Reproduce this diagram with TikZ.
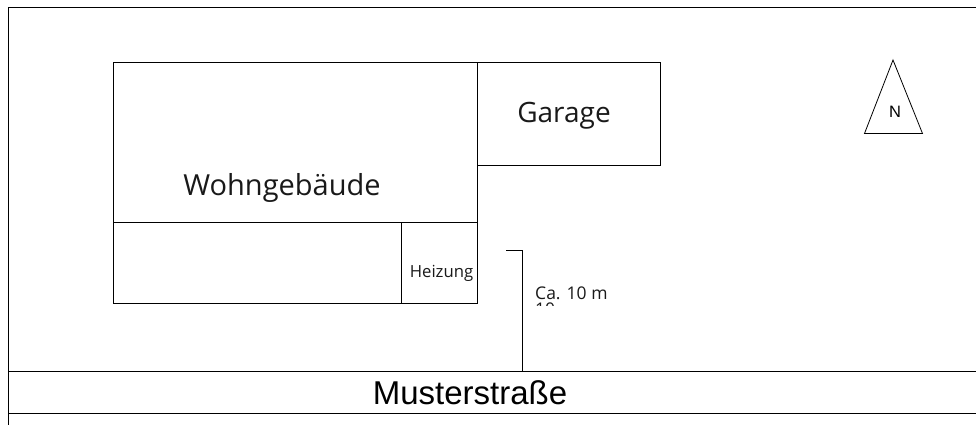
\documentclass[tikz,border=0pt]{standalone}
\usepackage{fontspec}
\setmainfont{Open Sans}
\newfontfamily\roadfont{Liberation Sans}
\usetikzlibrary{shapes.geometric, positioning}
\tikzstyle{room} = [rectangle,
inner sep=0pt,
outer sep=0pt,
draw=black,
line width=1pt]
\tikzstyle{line} = [draw=black,
line width=1pt]
\tikzstyle{label} = [inner sep=0pt,
text=black!90]

\begin{document}
\begin{tikzpicture}[x=1pt, y=-1pt]
	\useasboundingbox (0,0) rectangle (976,425);

	% plot outline and road
	\coordinate (frameA) at (8.5,425);
	\coordinate (frameB) at (8.5,7.5);
	\coordinate (frameC) at (976,7.5);
	\coordinate (roadA) at (8.5,371);
	\coordinate (roadB) at (976,371);
	\coordinate (roadC) at (8.5,413);
	\coordinate (roadD) at (976,413);
	\draw [line] (frameA) -- (frameB) -- (frameC);
	\draw [line] (roadA) -- (roadB);
	\draw [line] (roadC) -- (roadD);

	% buildings
	\node (house) [room, minimum width=364pt, minimum height=160pt] at (295.5,142.5) {};
	\node (annex) [room, minimum width=287.5pt, minimum height=81pt] at (257.25,262.5) {};
	\node (heating) [room, minimum width=76.5pt, minimum height=81pt] at (439.25,262.5) {};
	\node (garage) [room, minimum width=183pt, minimum height=102.5pt] at (569,113.75) {};

	\node (houseLabel) [label, font=\fontsize{29}{34}\selectfont] at (282,188) {Wohngebäude};
	\node (garageLabel) [label, font=\fontsize{28}{32}\selectfont] at (564,116) {Garage};
	\node (heatingLabel) [label, font=\fontsize{16.7}{20}\selectfont] at (441.5,273) {Heizung};

	% north marker
	\coordinate (northA) at (893,60);
	\coordinate (northB) at (864.5,133.5);
	\coordinate (northC) at (922.5,133.5);
	\draw [line, line width=0.8pt] (northA) -- (northB) -- (northC) -- cycle;
	\node (northLabel) [label, text=black, font=\roadfont\fontsize{16.5}{20}\selectfont] at (895,112) {N};

	% distance to the road
	\coordinate (leaderA) at (506,250.5);
	\coordinate (leaderB) at (522,250.5);
	\coordinate (leaderC) at (522,371);
	\draw [line] (leaderA) -- (leaderB) -- (leaderC);
	\node (distLabel) [label, anchor=west, font=\fontsize{17.5}{21}\selectfont] at (535,293) {Ca. 10 m};
	\begin{scope}
		\clip (530,300) rectangle (570,305);
		\node (distRest) [label, anchor=base west, font=\fontsize{17.5}{21}\selectfont] at (535,315) {10};
	\end{scope}

	\node (roadLabel) [label, text=black, font=\roadfont\fontsize{33}{38}\selectfont] at (470,393) {Musterstraße};
\end{tikzpicture}
\end{document}
